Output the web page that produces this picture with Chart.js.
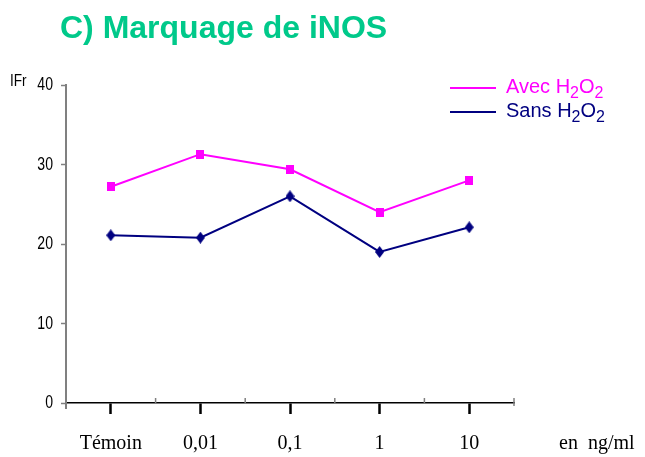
<!DOCTYPE html>
<html>
<head>
<meta charset="utf-8">
<script src="https://cdn.jsdelivr.net/npm/chart.js@4/dist/chart.umd.min.js"></script>
<style>
  html, body { margin: 0; padding: 0; background: #fff; }
  #wrap { width: 645px; height: 457px; }
</style>
</head>
<body>
<div id="wrap"><canvas id="inos"></canvas></div>
<script>
// concentrations and fluorescence index (IFr)
var doses = ['Témoin', '0,01', '0,1', '1', '10'];
var avecH2O2 = [27.2, 31.3, 29.4, 24.0, 28.0];
var sansH2O2 = [21.1, 20.8, 26.0, 19.0, 22.1];
var yTicks = [0, 10, 20, 30, 40];

var PINK = '#ff00ff';
var NAVY = '#000080';
var SANS = '"Liberation Sans", Arial, sans-serif';

// marker sprites: small square and tall diamond
function squareMark(color) {
    var c = document.createElement('canvas');
    c.width = 8; c.height = 9;
    var g = c.getContext('2d');
    g.fillStyle = color;
    g.fillRect(0, 0, 8, 9);
    return c;
}
function diamondMark(color) {
    var c = document.createElement('canvas');
    c.width = 9; c.height = 12;
    var g = c.getContext('2d');
    g.fillStyle = color;
    g.beginPath();
    g.moveTo(4.5, 0); g.lineTo(9, 6); g.lineTo(4.5, 12); g.lineTo(0, 6);
    g.closePath();
    g.fill();
    return c;
}

// writes "H2O2" style labels with the digits as subscripts
function chemText(ctx, text, x, y, size) {
    var parts = text.split(/(\d+)/);
    parts.forEach(function(p, i) {
        if (!p) return;
        var sub = i % 2 === 1;
        ctx.font = (sub ? size * 0.8 : size) + 'px ' + SANS;
        ctx.fillText(p, x, sub ? y + size * 0.25 : y);
        x += ctx.measureText(p).width;
    });
}

// narrow text: horizontally squeezed sans
function narrowText(ctx, text, x, y, size, squeeze, align) {
    ctx.save();
    ctx.font = size + 'px ' + SANS;
    ctx.textAlign = align;
    ctx.translate(x, y);
    ctx.scale(squeeze, 1);
    ctx.fillText(text, 0, 0);
    ctx.restore();
}

var extras = {
    id: 'extras',
    afterDraw: function(chart) {
        var ctx = chart.ctx;
        var xs = chart.scales.x;
        var ys = chart.scales.y;
        var area = chart.chartArea;
        ctx.save();

        // title
        ctx.fillStyle = '#00c98a';
        ctx.font = 'bold 32px ' + SANS;
        ctx.textAlign = 'left';
        ctx.textBaseline = 'alphabetic';
        ctx.fillText('C) Marquage de iNOS', 60, 38);

        // y tick labels and captions
        ctx.fillStyle = '#000';
        ctx.textBaseline = 'middle';
        yTicks.forEach(function(v) {
            narrowText(ctx, String(v), 53, ys.getPixelForValue(v), 19, 0.74, 'right');
        });
        ctx.textBaseline = 'alphabetic';
        narrowText(ctx, 'IFr', 10, 86, 16, 0.85, 'left');
        ctx.textAlign = 'left';
        ctx.font = '20px "Liberation Serif", "Times New Roman", serif';
        ctx.fillText('en  ng/ml', 559, 449);

        // small marks between categories
        ctx.strokeStyle = '#808080';
        ctx.lineWidth = 1.5;
        var n = doses.length;
        for (var i = 0; i < n; i++) {
            var right = i < n - 1 ? (xs.getPixelForValue(i) + xs.getPixelForValue(i + 1)) / 2
                                  : area.right;
            ctx.beginPath();
            ctx.moveTo(right, area.bottom - 5);
            ctx.lineTo(right, area.bottom + (i === n - 1 ? 3 : 0));
            ctx.stroke();
        }
        ctx.lineWidth = 2;
        ctx.beginPath();
        ctx.moveTo(area.left, area.bottom);
        ctx.lineTo(area.left, area.bottom + 6);
        ctx.stroke();

        // legend
        var rows = [88, 112];
        chart.data.datasets.forEach(function(ds, k) {
            var y = rows[k];
            ctx.strokeStyle = ds.borderColor;
            ctx.lineWidth = 2;
            ctx.beginPath();
            ctx.moveTo(450, y);
            ctx.lineTo(496, y);
            ctx.stroke();
            ctx.fillStyle = ds.borderColor;
            chemText(ctx, ds.label, 506, y + 5, 20);
        });
        ctx.restore();
    }
};

new Chart(document.getElementById('inos'), {
    type: 'line',
    data: {
        labels: doses,
        datasets: [
            {
                label: 'Avec H2O2',
                data: avecH2O2,
                borderColor: PINK,
                backgroundColor: PINK,
                borderWidth: 2,
                pointStyle: squareMark(PINK),
                tension: 0
            },
            {
                label: 'Sans H2O2',
                data: sansH2O2,
                borderColor: NAVY,
                backgroundColor: NAVY,
                borderWidth: 2,
                pointStyle: diamondMark(NAVY),
                tension: 0
            }
        ]
    },
    options: {
        responsive: true,
        maintainAspectRatio: false,
        animation: false,
        devicePixelRatio: 1,
        layout: { padding: { top: 85, right: 131, left: 0, bottom: 0 } },
        plugins: {
            legend: { display: false },
            title: { display: false },
            tooltip: { enabled: false }
        },
        scales: {
            x: {
                type: 'category',
                offset: true,
                afterFit: function(s) { s.height = 54; },
                border: { display: true, color: '#000', width: 1.5 },
                grid: {
                    offset: false,
                    drawOnChartArea: false,
                    drawTicks: true,
                    tickLength: 11,
                    tickWidth: 2.5,
                    tickColor: '#000'
                },
                ticks: {
                    color: '#000',
                    padding: 18,
                    maxRotation: 0,
                    autoSkip: false,
                    font: { family: '"Liberation Serif", "Times New Roman", serif', size: 20 }
                }
            },
            y: {
                min: yTicks[0],
                max: yTicks[yTicks.length - 1],
                afterFit: function(s) { s.width = 66; },
                afterBuildTicks: function(s) {
                    s.ticks = yTicks.map(function(v) { return { value: v }; });
                },
                border: { display: true, color: '#808080', width: 2 },
                grid: {
                    drawOnChartArea: false,
                    drawTicks: true,
                    tickLength: 5,
                    tickWidth: 1.5,
                    tickColor: '#808080'
                },
                ticks: { display: false }
            }
        }
    },
    plugins: [extras]
});
</script>
</body>
</html>
